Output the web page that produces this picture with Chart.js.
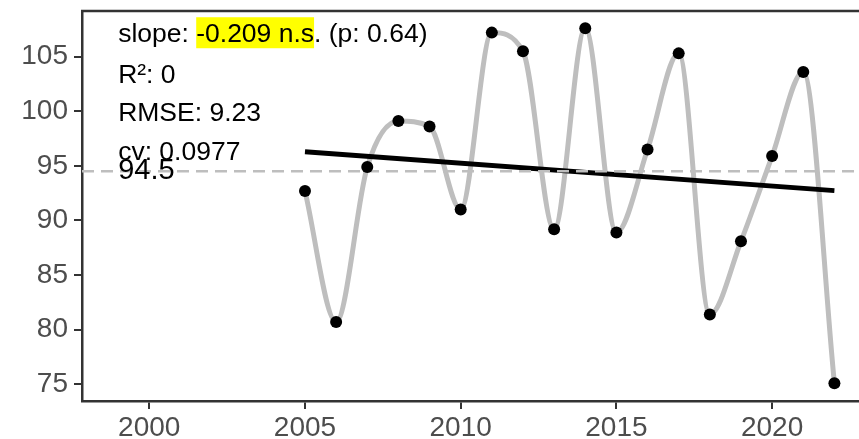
<!DOCTYPE html>
<html>
<head>
<meta charset="utf-8">
<script src="https://cdn.jsdelivr.net/npm/chart.js@4.4.0/dist/chart.umd.min.js"></script>
<style>
  html, body { margin: 0; padding: 0; background: #fff; }
  #wrap { width: 859px; height: 439px; }
</style>
</head>
<body>
<div id="wrap"><canvas id="trendChart" width="859" height="439"></canvas></div>
<script>
const years = [2005, 2006, 2007, 2008, 2009, 2010, 2011, 2012, 2013, 2014, 2015, 2016, 2017, 2018, 2019, 2020, 2021, 2022];
const values = [92.7, 80.7, 94.9, 99.1, 98.6, 91.0, 107.2, 105.5, 89.2, 107.6, 88.9, 96.5, 105.3, 81.4, 88.1, 95.9, 103.6, 75.1];
const xTicks = [2000, 2005, 2010, 2015, 2020];
const yTicks = [75, 80, 85, 90, 95, 100, 105];
const statLines = ["R\u00b2: 0", "RMSE: 9.23", "cv: 0.0977"];
const slopeText = ["slope: ", "-0.209 n.s", ". (p: 0.64)"];

const xMin = 1997.84, xMax = 2022.79;
const yMin = 73.47, yMax = 109.18;

// mean and least-squares fit
const n = values.length;
const meanX = years.reduce((a, b) => a + b, 0) / n;
const meanY = values.reduce((a, b) => a + b, 0) / n;
let sxy = 0, sxx = 0;
years.forEach((yr, i) => {
  sxy += (yr - meanX) * (values[i] - meanY);
  sxx += (yr - meanX) * (yr - meanX);
});
const slope = sxy / sxx;
const intercept = meanY - slope * meanX;

const series = years.map((yr, i) => ({ x: yr, y: values[i] }));
const firstYear = years[0], lastYear = years[n - 1];

const annotations = {
  id: "annotations",
  afterDatasetsDraw(chart) {
    const { ctx, chartArea, scales: { x, y } } = chart;
    ctx.save();

    // top panel line
    ctx.strokeStyle = "#333333";
    ctx.lineWidth = 2.5;
    ctx.beginPath();
    ctx.moveTo(chartArea.left - 1, chartArea.top);
    ctx.lineTo(chartArea.right, chartArea.top);
    ctx.stroke();

    const left = x.getPixelForValue(1999.0);
    ctx.font = '26.5px "Liberation Sans", Arial, sans-serif';
    ctx.textBaseline = "alphabetic";
    ctx.textAlign = "left";

    // slope line with highlighted value
    let cx = left;
    const base = y.getPixelForValue(106.32);
    ctx.fillStyle = "#000";
    ctx.fillText(slopeText[0], cx, base);
    cx += ctx.measureText(slopeText[0]).width;
    const hw = ctx.measureText(slopeText[1]).width;
    ctx.fillStyle = "#ffff00";
    ctx.fillRect(cx, base - 25, hw, 31);
    ctx.fillStyle = "#000";
    ctx.fillText(slopeText[1], cx, base);
    cx += hw;
    ctx.fillText(slopeText[2], cx, base);

    const baselines = [102.62, 99.14, 95.53];
    statLines.forEach((t, i) => {
      ctx.fillText(t, left, y.getPixelForValue(baselines[i]));
    });

    ctx.font = '29px "Liberation Sans", Arial, sans-serif';
    ctx.fillText(meanY.toFixed(1), left, y.getPixelForValue(93.77));
    ctx.restore();
  }
};

const tickFont = { family: '"Liberation Sans", Arial, sans-serif', size: 28 };

new Chart(document.getElementById("trendChart").getContext("2d"), {
  type: "line",
  data: {
    datasets: [
      {
        label: "smooth",
        data: series,
        borderColor: "#bebebe",
        borderWidth: 5,
        pointRadius: 0,
        cubicInterpolationMode: "monotone",
        fill: false,
        order: 4
      },
      {
        label: "trend",
        data: [
          { x: firstYear, y: intercept + slope * firstYear },
          { x: lastYear, y: intercept + slope * lastYear }
        ],
        borderColor: "#000000",
        borderWidth: 5,
        pointRadius: 0,
        fill: false,
        order: 3
      },
      {
        label: "mean",
        data: [
          { x: xMin, y: meanY },
          { x: xMax, y: meanY }
        ],
        borderColor: "#bebebe",
        borderWidth: 2.5,
        borderDash: [12, 7],
        pointRadius: 0,
        fill: false,
        order: 2
      },
      {
        label: "points",
        data: series,
        showLine: false,
        pointRadius: 6,
        pointBackgroundColor: "#000000",
        pointBorderWidth: 0,
        order: 1
      }
    ]
  },
  options: {
    responsive: false,
    devicePixelRatio: 1,
    animation: false,
    layout: { autoPadding: false, padding: { top: 11, right: 0, left: 0, bottom: 0 } },
    plugins: {
      legend: { display: false },
      tooltip: { enabled: false }
    },
    scales: {
      x: {
        type: "linear",
        min: xMin,
        max: xMax,
        afterBuildTicks: (s) => { s.ticks = xTicks.map((v) => ({ value: v })); },
        afterFit: (s) => {
          s.height = 38;
          s.paddingLeft = 0;
          s.paddingRight = 0;
        },
        ticks: {
          color: "#4d4d4d",
          font: tickFont,
          padding: 2,
          maxRotation: 0,
          callback: (v) => String(v)
        },
        grid: { drawOnChartArea: false, color: "#333333", lineWidth: 2, tickLength: 8 },
        border: { color: "#333333", width: 2.5 }
      },
      y: {
        type: "linear",
        min: yMin,
        max: yMax,
        afterBuildTicks: (s) => { s.ticks = yTicks.map((v) => ({ value: v })); },
        afterFit: (s) => {
          s.width = 82;
          s.paddingTop = 0;
          s.paddingBottom = 0;
        },
        ticks: {
          color: "#4d4d4d",
          font: tickFont,
          padding: 6,
          callback: (v) => String(v)
        },
        grid: { drawOnChartArea: false, color: "#333333", lineWidth: 2, tickLength: 8 },
        border: { color: "#333333", width: 2.5 }
      }
    }
  },
  plugins: [annotations]
});
</script>
</body>
</html>
